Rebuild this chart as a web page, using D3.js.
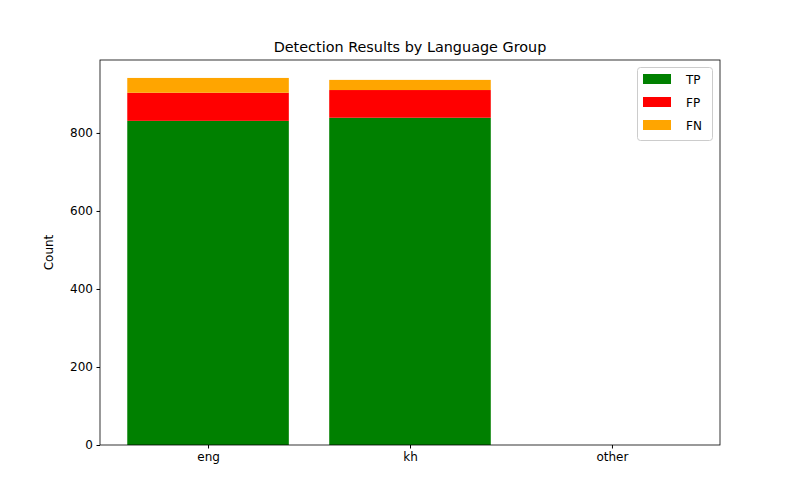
<!DOCTYPE html><html><head><script src="https://d3js.org/d3.v7.min.js"></script>
<style>body{margin:0;background:#fff}text{font-family:"DejaVu Sans",sans-serif}</style></head><body>
<svg id="c" width="800" height="500"></svg>
<script>
const categories=["eng","kh","other"];
const tp=[831,839,0];
const fp=[72,71,0];
const fn=[38,26,0];
const yTicks=[0,200,400,600,800];
const series=[{name:"TP",vals:tp,color:"green"},{name:"FP",vals:fp,color:"red"},{name:"FN",vals:fn,color:"orange"}];
const svg=d3.select("#c");
const L=100,R=720,T=60,B=445;
const x=d3.scaleLinear().domain([-0.535,2.535]).range([L,R]);
const y=d3.scaleLinear().domain([0,987]).range([B,T]);
const bw=x(0.8)-x(0);
const base=categories.map(()=>0);
series.forEach(s=>{
  categories.forEach((c,i)=>{
    if(s.vals[i]>0) svg.append("rect").attr("x",x(i)-bw/2).attr("width",bw)
      .attr("y",y(base[i]+s.vals[i])).attr("height",y(base[i])-y(base[i]+s.vals[i])).attr("fill",s.color);
    base[i]+=s.vals[i];
  });
});
const ya=svg.append("g").attr("transform",`translate(${L},0)`).call(d3.axisLeft(y).tickValues(yTicks).tickSize(3.5).tickPadding(3.5));
const xa=svg.append("g").attr("transform",`translate(0,${B})`).call(d3.axisBottom(x).tickValues([0,1,2]).tickFormat(i=>categories[i]).tickSize(3.5).tickPadding(3.5));
[ya,xa].forEach(a=>{a.select(".domain").remove();a.selectAll("text").attr("font-size",12).attr("fill","#000");a.selectAll("line").attr("stroke","#000");});
svg.append("rect").attr("x",L).attr("y",T).attr("width",R-L).attr("height",B-T).attr("fill","none").attr("stroke","#000").attr("stroke-width",0.8);
svg.append("text").attr("x",(L+R)/2).attr("y",52).attr("text-anchor","middle").attr("font-size",14.4).text("Detection Results by Language Group");
svg.append("text").attr("transform",`translate(53,${(T+B)/2}) rotate(-90)`).attr("text-anchor","middle").attr("font-size",12).text("Count");
const lg=svg.append("g");
lg.append("rect").attr("x",637.5).attr("y",67.5).attr("width",75).attr("height",73).attr("rx",3).attr("fill","#fff").attr("stroke","#ccc");
series.forEach((s,i)=>{
  lg.append("rect").attr("x",643).attr("y",74+i*23).attr("width",28).attr("height",10).attr("fill",s.color);
  lg.append("text").attr("x",686).attr("y",84+i*23).attr("font-size",12).text(s.name);
});
</script></body></html>
